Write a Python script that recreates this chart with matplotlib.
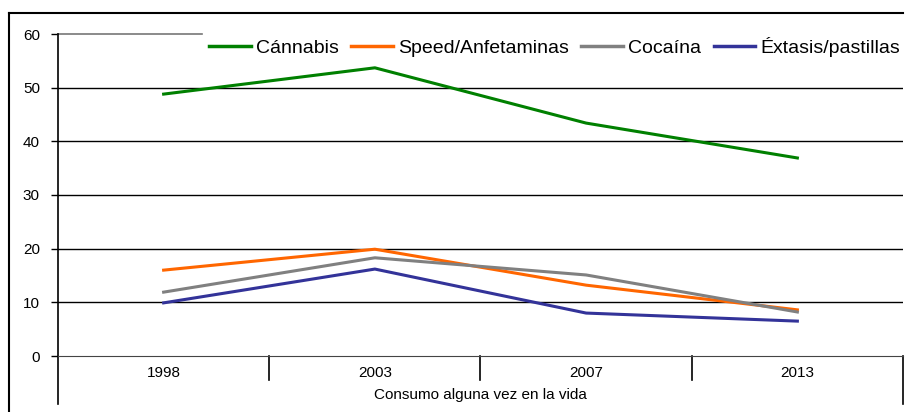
import matplotlib
matplotlib.use("Agg")
import matplotlib.pyplot as plt
from matplotlib.lines import Line2D

plt.rcParams['font.family'] = ['Liberation Sans', 'DejaVu Sans']

YEARS = ["1998", "2003", "2007", "2013"]
CANNABIS = [48.8, 53.7, 43.4, 36.9]
SPEED = [16.0, 19.9, 13.2, 8.6]
COCAINA = [11.9, 18.3, 15.1, 8.2]
EXTASIS = [9.9, 16.2, 8.0, 6.5]

SERIES = [
    ("Cánnabis", CANNABIS, "#008000"),
    ("Speed/Anfetaminas", SPEED, "#FF6600"),
    ("Cocaína", COCAINA, "#808080"),
    ("Éxtasis/pastillas", EXTASIS, "#333399"),
]
X_TITLE = "Consumo alguna vez en la vida"


def main():
    fig = plt.figure(figsize=(9.07, 4.12), dpi=100)
    ax = fig.add_axes([58 / 907, 56 / 412, 845 / 907, 322 / 412])

    x = list(range(len(YEARS)))
    for name, vals, col in SERIES:
        ax.plot(x, vals, color=col, lw=2.2, label=name, zorder=3)

    ax.set_xlim(-0.5, len(YEARS) - 0.5)
    ax.set_ylim(0, 60)
    ax.set_yticks(range(0, 61, 10))

    # horizontal grid lines
    for v in range(10, 51, 10):
        ax.axhline(v, color="black", lw=1, zorder=1)
    ax.plot([0, 0.17], [60, 60], color="#777777", lw=1.2,
            transform=ax.get_yaxis_transform(), clip_on=False)

    for s in ["top", "right", "left"]:
        ax.spines[s].set_visible(False)
    ax.spines["bottom"].set_color("#444444")

    # category axis separators
    xt = ax.get_xaxis_transform()
    for b in [0.5, 1.5, 2.5]:
        ax.plot([b, b], [0, -0.075], color="black", lw=1.2,
                transform=xt, clip_on=False)
    ax.plot([3.5, 3.5], [0, -0.149], color="black", lw=1.2,
            transform=xt, clip_on=False)
    ax.plot([0, 0], [-0.149, 1], color="black", lw=1.2,
            transform=ax.transAxes, clip_on=False)

    ax.set_xticks(x)
    ax.set_xticklabels(YEARS, fontsize=11)
    ax.tick_params(axis="x", length=0, pad=7)
    ax.tick_params(axis="y", length=5, width=1, labelsize=11, pad=8)
    ax.set_xlabel(X_TITLE, fontsize=11, labelpad=6)

    leg = ax.legend(loc="center left", bbox_to_anchor=(209 / 907, 1 - 47 / 412),
                    bbox_transform=fig.transFigure, ncol=4, frameon=False,
                    fontsize=14, handlelength=2.15, handletextpad=0.25,
                    columnspacing=0.65, borderpad=0, borderaxespad=0)
    for h in leg.get_lines():
        h.set_linewidth(2.5)

    # outer frame
    fig.add_artist(Line2D([9 / 907, 9 / 907], [0, 1 - 13 / 412],
                          color="black", lw=1.5))
    fig.add_artist(Line2D([9 / 907, 903 / 907], [1 - 13 / 412, 1 - 13 / 412],
                          color="black", lw=1.5))

    fig.savefig("out.png", dpi=100)


if __name__ == "__main__":
    main()
